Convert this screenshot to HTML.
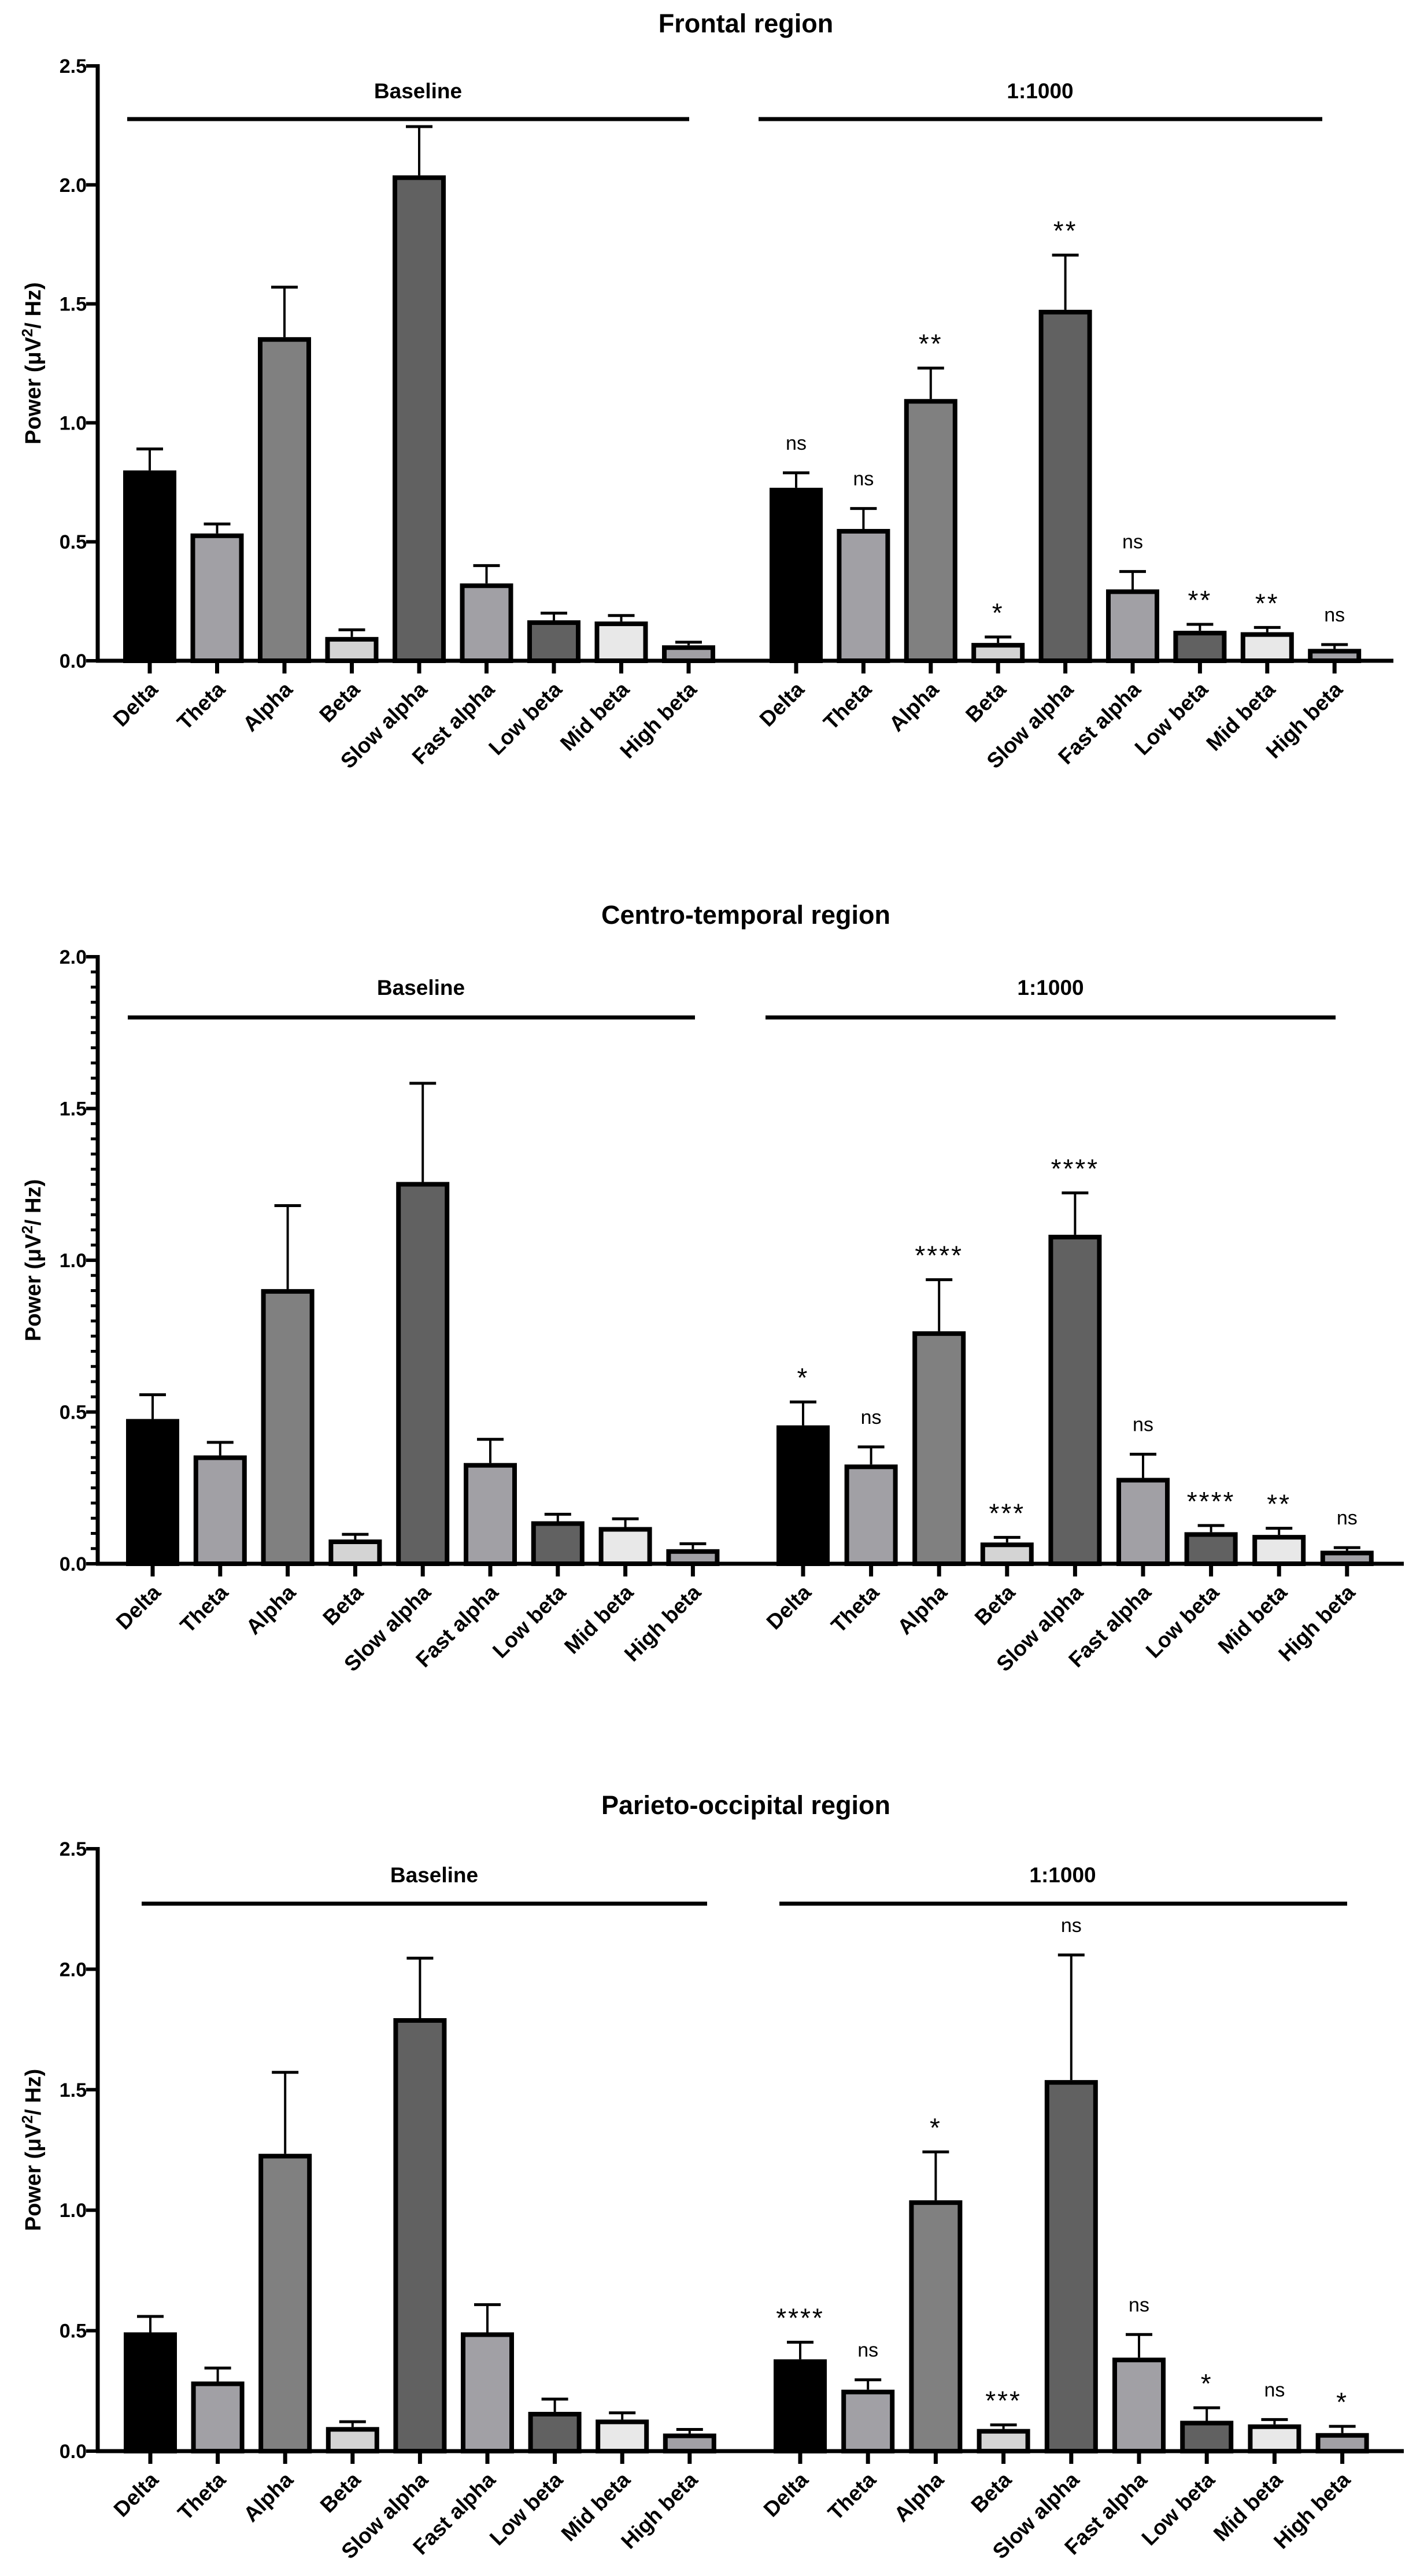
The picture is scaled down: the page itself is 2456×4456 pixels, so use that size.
<!DOCTYPE html>
<html><head><meta charset="utf-8">
<style>
html,body{margin:0;padding:0;background:#fff;}
svg{display:block;font-family:"Liberation Sans",Arial,sans-serif;}
</style></head>
<body>
<svg id="chart" width="2456" height="4456" viewBox="0 0 2456 4456" xmlns="http://www.w3.org/2000/svg"></svg>
<script>
// ---- data ----
const categories = ["Delta","Theta","Alpha","Beta","Slow alpha","Fast alpha","Low beta","Mid beta","High beta"];
const groupLabels = ["Baseline","1:1000"];
const panelTitles = ["Frontal region","Centro-temporal region","Parieto-occipital region"];

const frontalBaseMean = [0.80,0.535,1.36,0.10,2.04,0.325,0.17,0.165,0.065];
const frontalBaseErr  = [0.89,0.575,1.57,0.13,2.245,0.40,0.20,0.19,0.078];
const frontalDrugMean = [0.727,0.554,1.10,0.075,1.475,0.30,0.126,0.12,0.05];
const frontalDrugErr  = [0.79,0.64,1.23,0.10,1.705,0.375,0.153,0.14,0.068];
const frontalSig = ["ns","ns","**","*","**","ns","**","**","ns"];

const centroBaseMean = [0.477,0.357,0.905,0.08,1.258,0.332,0.14,0.121,0.048];
const centroBaseErr  = [0.557,0.40,1.18,0.097,1.583,0.41,0.163,0.148,0.066];
const centroDrugMean = [0.456,0.327,0.766,0.07,1.084,0.283,0.104,0.095,0.043];
const centroDrugErr  = [0.533,0.385,0.936,0.087,1.222,0.361,0.126,0.117,0.053];
const centroSig = ["*","ns","****","***","****","ns","****","**","ns"];

const parietoBaseMean = [0.493,0.289,1.234,0.10,1.797,0.493,0.163,0.131,0.073];
const parietoBaseErr  = [0.559,0.345,1.572,0.122,2.046,0.608,0.216,0.159,0.09];
const parietoDrugMean = [0.381,0.255,1.041,0.092,1.54,0.388,0.126,0.111,0.075];
const parietoDrugErr  = [0.452,0.296,1.242,0.109,2.059,0.484,0.18,0.131,0.103];
const parietoSig = ["****","ns","*","***","ns","ns","*","ns","*"];

const ticksA = [0,0.5,1.0,1.5,2.0,2.5];
const ticksB = [0,0.5,1.0,1.5,2.0];

// ---- styling / layout ----
const fills = ["#000000","#a1a0a5","#808080","#d4d4d4","#616161","#a1a0a5","#616161","#e8e8e8","#a1a0a5"];
const layouts = [
 {y0:1143,yTop:114,max:2.5,ticks:ticksA,minor:false,l0:259,ls:116.5,r0:1377,rs:116.4,xEnd:2410,titleY:56,gLabY:170,gLineY:206,gl:[220,1192],gr:[1312,2287],glx:[723,1799],
  bm:frontalBaseMean,be:frontalBaseErr,dm:frontalDrugMean,de:frontalDrugErr,sig:frontalSig,key:"frontal"},
 {y0:2705,yTop:1655,max:2.0,ticks:ticksB,minor:true,l0:264,ls:116.8,r0:1389,rs:117.6,xEnd:2428,titleY:1598,gLabY:1721,gLineY:1760,gl:[221,1202],gr:[1324,2310],glx:[728,1817],
  bm:centroBaseMean,be:centroBaseErr,dm:centroDrugMean,de:centroDrugErr,sig:centroSig,key:"centro-temporal"},
 {y0:4240,yTop:3198,max:2.5,ticks:ticksA,minor:false,l0:260,ls:116.6,r0:1384,rs:117.2,xEnd:2428,titleY:3138,gLabY:3256,gLineY:3293,gl:[245,1223],gr:[1348,2330],glx:[751,1838],
  bm:parietoBaseMean,be:parietoBaseErr,dm:parietoDrugMean,de:parietoDrugErr,sig:parietoSig,key:"parieto-occipital"}
];
const AX = 169;
const NS = "http://www.w3.org/2000/svg";
const svg = document.getElementById("chart");
function mk(tag, attrs, parent){
  const e = document.createElementNS(NS, tag);
  for (const k in attrs) e.setAttribute(k, attrs[k]);
  (parent||svg).appendChild(e);
  return e;
}

layouts.forEach((P, pi) => {
  const g = mk("g", {});
  
  
  const yS = v => P.y0 - (v / P.max) * (P.y0 - P.yTop);

  const t = mk("text", {x:1290, y:P.titleY, "text-anchor":"middle", "font-size":45, "font-weight":"bold"}, g);
  t.textContent = panelTitles[pi];
  
  

  const ya = mk("line", {x1:AX, y1:yS(P.max)-3, x2:AX, y2:P.y0+3, stroke:"#000","stroke-width":7}, g);
  
  
  P.ticks.forEach(v => {
    const y = yS(v);
    mk("line", {x1:AX-20, y1:y, x2:AX, y2:y, stroke:"#000","stroke-width":6}, g);
    const tl = mk("text", {x:150, y:y+12, "text-anchor":"end", "font-size":34, "font-weight":"bold"}, g);
    tl.textContent = v.toFixed(1);
    
    
  });
  if (P.minor) {
    for (let i = 1; i < P.max / 0.05; i++) {
      if (i % 10 === 0) continue;
      const y = yS(i * 0.05);
      mk("line", {x1:AX-12, y1:y, x2:AX, y2:y, stroke:"#000","stroke-width":5}, g);
    }
  }
  const yt = mk("text", {x:0, y:0, transform:`translate(70 ${(P.y0+P.yTop)/2}) rotate(-90)`, "text-anchor":"middle", "font-size":38, "font-weight":"bold"}, g);
  yt.innerHTML = 'Power (μV<tspan font-size="26" dy="-14">2</tspan><tspan dy="14">/ Hz)</tspan>';
  
  

  const xa = mk("line", {x1:AX-3, y1:P.y0, x2:P.xEnd, y2:P.y0, stroke:"#000","stroke-width":7}, g);
  
  

  const groups = [
    {x0:P.l0, step:P.ls, mean:P.bm, err:P.be, sig:null, line:P.gl, lx:P.glx[0], label:groupLabels[0]},
    {x0:P.r0, step:P.rs, mean:P.dm, err:P.de, sig:P.sig, line:P.gr, lx:P.glx[1], label:groupLabels[1]}
  ];
  groups.forEach((G, gi) => {
    const gl = mk("line", {x1:G.line[0], y1:P.gLineY, x2:G.line[1], y2:P.gLineY, stroke:"#000","stroke-width":7}, g);
    
    
    const glab = mk("text", {x:G.lx, y:P.gLabY, "text-anchor":"middle", "font-size":37, "font-weight":"bold"}, g);
    glab.textContent = G.label;
    
    

    categories.forEach((c, i) => {
      const cx = G.x0 + i * G.step;
      const top = yS(G.mean[i]);
      const et = yS(G.err[i]);
      const eb = mk("line", {x1:cx, y1:top, x2:cx, y2:et, stroke:"#000","stroke-width":4}, g);
      
      
      mk("line", {x1:cx-23, y1:et, x2:cx+23, y2:et, stroke:"#000","stroke-width":5}, g);
      const r = mk("rect", {x:cx-42, y:top+4, width:84, height:Math.max(0, P.y0 - top - 4), fill:fills[i], stroke:"#000","stroke-width":8}, g);
      
      
      mk("line", {x1:cx, y1:P.y0, x2:cx, y2:P.y0+22, stroke:"#000","stroke-width":7}, g);
      const cl = mk("text", {x:0, y:0, transform:`translate(${cx+16} ${P.y0+52}) rotate(-45)`, "text-anchor":"end", "font-size":37, "font-weight":"bold"}, g);
      cl.textContent = c;
      
      
      if (G.sig) {
        const isNs = G.sig[i] === "ns";
        const st = mk("text", {x:cx, y: isNs ? et - 40 : et - 26, "text-anchor":"middle", "font-size": isNs ? 34 : 46, "letter-spacing": isNs ? 0 : 3}, g);
        st.textContent = G.sig[i];
        
        
      }
    });
  });
});
</script>
</body></html>
